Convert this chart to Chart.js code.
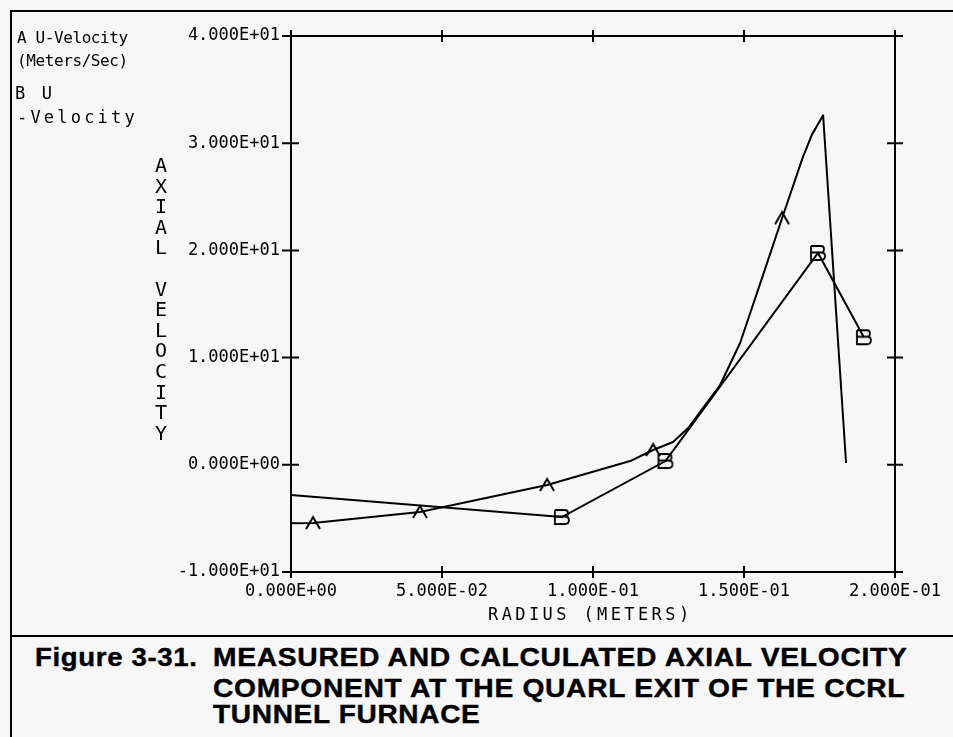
<!DOCTYPE html>
<html>
<head>
<meta charset="utf-8">
<script src="https://cdn.jsdelivr.net/npm/chart.js@4.4.0/dist/chart.umd.min.js"></script>
<style>
  body { margin: 0; width: 953px; height: 737px; overflow: hidden; position: relative; background: #f7f7f7; font-family: 'DejaVu Sans Mono', monospace; color: #000; }
  #plot { position: absolute; left: 0; top: 0; }
  .frame { position: absolute; left: 10px; top: 10px; width: 960px; height: 740px; border-left: 2px solid #000; border-top: 2px solid #000; }
  .divider { position: absolute; left: 10px; top: 635px; width: 950px; border-top: 2px solid #000; }
  .t { position: absolute; white-space: nowrap; }
  .leg1 { font-size: 16px; line-height: 16px; letter-spacing: -0.4px; }
  .leg2 { font-size: 17px; line-height: 17px; letter-spacing: 3.2px; }
  .ytitle { position: absolute; left: 151px; top: 155px; width: 20px; text-align: center; font-size: 20px; line-height: 20.6px; }
  .xtitle { font-size: 17px; line-height: 17px; letter-spacing: 3.4px; }
  .cap { font-family: 'Liberation Sans', Arial, sans-serif; font-weight: bold; font-size: 25px; line-height: 25px; letter-spacing: 0.6px; -webkit-text-stroke: 0.4px #000; transform-origin: 0 0; }
</style>
</head>
<body>
<div class="frame"></div>
<div class="divider"></div>
<canvas id="plot" width="953" height="636"></canvas>

<div class="t leg1" style="left:17px; top:30px;">A U-Velocity</div>
<div class="t leg1" style="left:17px; top:53px;">(Meters/Sec)</div>
<div class="t leg2" style="left:15px; top:85px;">B U</div>
<div class="t leg2" style="left:17px; top:109px;">-Velocity</div>

<div class="ytitle" id="ytitle"></div>
<div class="t xtitle" style="left:488px; top:606px;">RADIUS (METERS)</div>

<div class="t cap" data-w="163" style="left:35px; top:645px;">Figure 3-31.</div>
<div class="t cap" data-w="694" style="left:213px; top:645px;">MEASURED AND CALCULATED AXIAL VELOCITY</div>
<div class="t cap" data-w="692" style="left:213px; top:676px;">COMPONENT AT THE QUARL EXIT OF THE CCRL</div>
<div class="t cap" data-w="268" style="left:213px; top:702px;">TUNNEL FURNACE</div>

<script>
// series A (line with "A" symbols on some of its points)
const radiusA = [0, 0.0073, 0.0427, 0.0848, 0.1123, 0.1199, 0.1265, 0.1315, 0.1364, 0.1421, 0.1487, 0.1563, 0.1626, 0.1695, 0.1725, 0.1762, 0.1838];
const velocityA = [-5.45, -5.43, -4.4, -1.88, 0.35, 1.38, 2.13, 3.43, 5.3, 7.44, 11.36, 17.7, 23.0, 28.7, 30.8, 32.6, 0.17];
const symbolIndexA = [1, 2, 3, 5, 12];

// series B
const radiusB = [0, 0.0897, 0.124, 0.1745, 0.1897];
const velocityB = [-2.82, -4.87, 0.35, 19.76, 11.9];

const xTicks = [0, 0.05, 0.1, 0.15, 0.2];
const xTickLabels = ['0.000E+00', '5.000E-02', '1.000E-01', '1.500E-01', '2.000E-01'];
const yTicks = [-10, 0, 10, 20, 30, 40];
const yTickLabels = ['-1.000E+01', '0.000E+00', '1.000E+01', '2.000E+01', '3.000E+01', '4.000E+01'];
const yTitle = 'AXIAL VELOCITY';

// stacked axis title
const yt = document.getElementById('ytitle');
yTitle.split('').forEach(ch => {
    const d = document.createElement('div');
    d.textContent = ch === ' ' ? '\u00a0' : ch;
    yt.appendChild(d);
});

// fit caption lines to their widths
document.querySelectorAll('.cap').forEach(el => {
    const w = +el.dataset.w;
    el.style.transform = 'scaleX(' + (w / el.offsetWidth) + ')';
});

/* plotter style symbols */
function symbolA() {
    const c = document.createElement('canvas');
    c.width = 16; c.height = 16;
    const g = c.getContext('2d');
    g.strokeStyle = '#000'; g.lineWidth = 2;
    g.beginPath();
    g.moveTo(1, 14); g.lineTo(8, 2); g.lineTo(15, 14);
    g.stroke();
    return c;
}
function symbolB() {
    const c = document.createElement('canvas');
    c.width = 18; c.height = 18;
    const g = c.getContext('2d');
    g.strokeStyle = '#000'; g.lineWidth = 1.8;
    g.beginPath();
    g.moveTo(2, 2); g.lineTo(12, 2);
    g.quadraticCurveTo(15, 2, 15, 5); g.quadraticCurveTo(15, 8.5, 12, 8.5);
    g.lineTo(2, 8.5);
    g.moveTo(12, 8.5);
    g.quadraticCurveTo(16, 8.5, 16, 12); g.quadraticCurveTo(16, 16, 12, 16);
    g.lineTo(2, 16); g.lineTo(2, 2);
    g.stroke();
    return c;
}

const pointsA = radiusA.map((r, i) => ({x: r, y: velocityA[i]}));
const pointsB = radiusB.map((r, i) => ({x: r, y: velocityB[i]}));
const marksA = symbolIndexA.map(i => pointsA[i]);

// box round the plot with ticks crossing every side
const boxTicks = {
    id: 'boxTicks',
    afterDatasetsDraw(chart) {
        const {ctx, chartArea: a, scales: {x, y}} = chart;
        ctx.save();
        ctx.strokeStyle = '#000';
        ctx.lineWidth = 2;
        ctx.strokeRect(a.left, a.top, a.right - a.left, a.bottom - a.top);
        ctx.beginPath();
        y.ticks.forEach(t => {
            const py = y.getPixelForValue(t.value);
            ctx.moveTo(a.left - 9, py); ctx.lineTo(a.left + 8, py);
            ctx.moveTo(a.right - 8, py); ctx.lineTo(a.right + 8, py);
        });
        x.ticks.forEach(t => {
            const px = x.getPixelForValue(t.value);
            ctx.moveTo(px, a.top - 6); ctx.lineTo(px, a.top + 6);
            ctx.moveTo(px, a.bottom - 6); ctx.lineTo(px, a.bottom + 6);
        });
        ctx.stroke();
        ctx.restore();
    }
};

const tickFont = {family: 'DejaVu Sans Mono', size: 17};

new Chart(document.getElementById('plot'), {
    type: 'scatter',
    data: {
        datasets: [{
            label: 'U-Velocity (Meters/Sec)',
            data: pointsA,
            showLine: true,
            borderColor: '#000',
            borderWidth: 2,
            borderJoinStyle: 'round',
            pointRadius: 0
        }, {
            label: 'U-Velocity A symbols',
            data: marksA,
            showLine: false,
            pointStyle: symbolA(),
            pointRadius: 8
        }, {
            label: 'U -Velocity',
            data: pointsB,
            showLine: true,
            borderColor: '#000',
            borderWidth: 2,
            pointStyle: symbolB(),
            pointRadius: ctx => ctx.dataIndex === 0 ? 0 : 8
        }]
    },
    options: {
        responsive: false,
        animation: false,
        layout: {padding: {top: 36, right: 58, left: 0, bottom: 0}},
        plugins: {
            legend: {display: false},
            tooltip: {enabled: false}
        },
        scales: {
            x: {
                type: 'linear', min: 0, max: 0.2,
                grid: {display: false, drawTicks: false},
                border: {display: false},
                afterBuildTicks: s => { s.ticks = xTicks.map(v => ({value: v})); },
                afterFit: s => { s.height = 64; },
                ticks: {
                    callback: v => xTickLabels[xTicks.indexOf(v)],
                    padding: 9, maxRotation: 0, autoSkip: false,
                    color: '#000', font: tickFont
                }
            },
            y: {
                type: 'linear', min: -10, max: 40,
                grid: {display: false, drawTicks: false},
                border: {display: false},
                afterBuildTicks: s => { s.ticks = yTicks.map(v => ({value: v})); },
                afterFit: s => { s.width = 291; },
                ticks: {
                    callback: v => yTickLabels[yTicks.indexOf(v)],
                    padding: 11, autoSkip: false,
                    color: '#000', font: tickFont
                }
            }
        }
    },
    plugins: [boxTicks]
});
</script>
</body>
</html>
